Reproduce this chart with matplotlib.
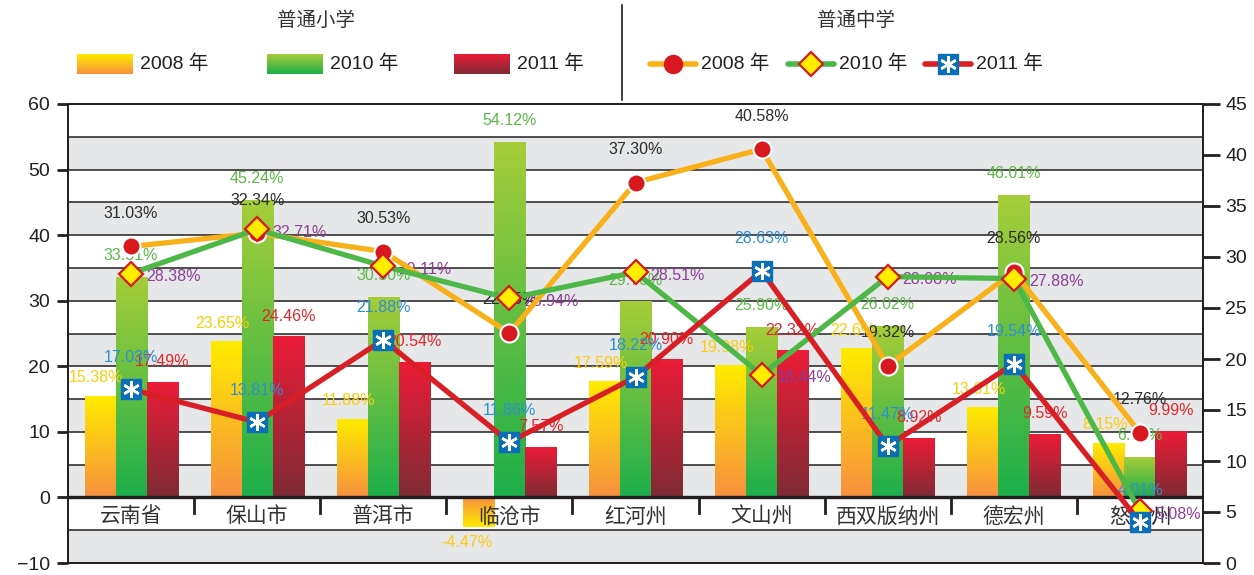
import numpy as np
import matplotlib
matplotlib.use('Agg')
from matplotlib import pyplot as plt
from matplotlib.colors import LinearSegmentedColormap

plt.rcParams['font.family'] = ['Liberation Sans', 'Noto Sans CJK SC', 'DejaVu Sans']

# 州市
regions = ['云南省', '保山市', '普洱市', '临沧市', '红河州', '文山州', '西双版纳州', '德宏州', '怒江州']

# 普通小学（柱状，左轴），按标注原样记录
primary_2008 = ['15.38', '23.65', '11.88', '-4.47', '17.59', '19.98', '22.6', '13.61', '8.15']
primary_2010 = ['33.51', '45.24', '30.50', '54.12', '29.76', '25.90', '26.02', '46.01', '6.02']
primary_2011 = ['17.49', '24.46', '20.54', '7.57', '20.90', '22.32', '8.92', '9.59', '9.99']

# 普通中学（折线，右轴）
middle_2008 = [31.03, 32.34, 30.53, 22.55, 37.30, 40.58, 19.32, 28.56, 12.76]
middle_2010 = [28.38, 32.71, 29.11, 25.94, 28.51, 18.44, 28.08, 27.88, 5.08]
middle_2011 = [17.03, 13.81, 21.88, 11.86, 18.22, 28.63, 11.47, 19.54, 4.01]

years = ['2008 年', '2010 年', '2011 年']
left_ticks = [-10, 0, 10, 20, 30, 40, 50, 60]
right_ticks = [0, 5, 10, 15, 20, 25, 30, 35, 40, 45]

ink = '#231F20'
W, H = 1254, 575

fig = plt.figure(figsize=(W / 100, H / 100), dpi=100)
ax = fig.add_axes([68 / W, 12 / H, 1135 / W, 459 / H])

# 灰白相间的背景条和横线
for lo in range(-10, 60, 10):
    ax.axhspan(lo, lo + 5, color='#E6E7E8', lw=0, zorder=0)
for g in range(-5, 60, 5):
    ax.axhline(g, color=ink, lw=1.1, zorder=0.5)
ax.axhline(0, color=ink, lw=2.4, zorder=2)

x = np.arange(len(regions))
bw = 0.246


def gradient_bars(bars, top_color, bottom_color):
    cmap = LinearSegmentedColormap.from_list('grad', [bottom_color, top_color])
    grad = np.linspace(0, 1, 256).reshape(-1, 1)
    for b in bars:
        x0, y0 = b.get_xy()
        w, h = b.get_width(), b.get_height()
        b.set_visible(False)
        ax.imshow(grad, cmap=cmap, origin='lower', aspect='auto',
                  extent=[x0, x0 + w, y0, y0 + h], zorder=1, interpolation='bilinear')


def as_num(vals):
    return [float(v) for v in vals]


b08 = ax.bar(x - bw, as_num(primary_2008), bw)
b10 = ax.bar(x, as_num(primary_2010), bw)
b11 = ax.bar(x + bw, as_num(primary_2011), bw)
gradient_bars(b08, '#FFEC00', '#F7903F')
gradient_bars(b10, '#A6CD39', '#1DAF4B')
gradient_bars(b11, '#EC1C38', '#7E2B34')


# 柱上数值
def bar_labels(xs, vals, color, dx, dy):
    for xi, s in zip(xs, vals):
        v = float(s)
        if v >= 0:
            off = (dx, dy)
        else:
            off = (-12, -16)
        ax.annotate(s + '%', (xi, v), xytext=off, textcoords='offset pixels',
                    ha='center', va='center', fontsize=11.5, color=color, zorder=3)


bar_labels(x - bw, primary_2008, '#FDCD0B', -4, 19)
bar_labels(x, primary_2010, '#5CB947', 0, 22)
bar_labels(x + bw, primary_2011, '#E1262D', 0, 21)

# 横轴分类名和分隔短线
for i, name in enumerate(regions):
    ax.text(i, -2.9, name, ha='center', va='center', fontsize=15,
            family=['Noto Sans CJK SC'], color='#333333', zorder=4)
for i in range(len(regions) - 1):
    ax.plot([i + 0.5, i + 0.5], [0, -2.3], color=ink, lw=2, zorder=2)

ax.set_xlim(-0.5, len(regions) - 0.5)
ax.set_ylim(-10, 60)
ax.set_xticks([])
ax.set_yticks(left_ticks)
ax.tick_params(axis='y', direction='out', length=8, width=2, labelsize=14,
               colors=ink, pad=5)
for s in ax.spines.values():
    s.set_color(ink)
    s.set_linewidth(1.3)

# 右轴折线
ax2 = ax.twinx()
ax2.set_ylim(0, 45)
ax2.set_yticks(right_ticks)
ax2.tick_params(axis='y', direction='out', length=12, width=2, labelsize=14,
                colors=ink, pad=4)
for s in ax2.spines.values():
    s.set_color(ink)
    s.set_linewidth(1.3)

ax2.plot(x, middle_2008, color='#F9B11B', lw=3.8, marker='o', ms=13,
         mfc='#D7191F', mec='white', mew=1.5, zorder=3)
ax2.plot(x, middle_2010, color='#4DB848', lw=3.8, marker='D', ms=12,
         mfc='#FFED00', mec='#D7191F', mew=1.6, zorder=4)
ax2.plot(x, middle_2011, color='#D91F26', lw=3.8, zorder=5)
ax2.plot(x, middle_2011, ls='none', marker='s', ms=15, mfc='#0A6FB7',
         mec='#0A6FB7', zorder=6)
ax2.plot(x, middle_2011, ls='none', marker=(6, 2, 0), ms=12, mec='white',
         mew=1.8, zorder=7)

for xi, v in zip(x, middle_2008):
    ax2.annotate(f'{v:.2f}%', (xi, v), xytext=(0, 33), textcoords='offset pixels',
                 ha='center', va='center', fontsize=11.5, color='#2B2B2B', zorder=2)
for xi, v in zip(x, middle_2010):
    ax2.annotate(f'{v:.2f}%', (xi, v), xytext=(15, -3), textcoords='offset pixels',
                 ha='left', va='center', fontsize=11.5, color='#8E3D97', zorder=2)
for xi, v in zip(x, middle_2011):
    ax2.annotate(f'{v:.2f}%', (xi, v), xytext=(0, 32), textcoords='offset pixels',
                 ha='center', va='center', fontsize=11.5, color='#2F8FD6', zorder=2)
ax2.set_xlim(-0.5, len(regions) - 0.5)

# 顶部图例
hdr = fig.add_axes([0, 0, 1, 1])
hdr.axis('off')
hdr.plot([622, 622], [5, 100], color=ink, lw=1.2)
hdr.text(316, 20, '普通小学', ha='center', va='center', fontsize=14,
         family=['Noto Sans CJK SC'], color='#333333')
hdr.text(856, 20, '普通中学', ha='center', va='center', fontsize=14,
         family=['Noto Sans CJK SC'], color='#333333')

grad = np.linspace(0, 1, 256).reshape(-1, 1)
patch_colors = [('#FFEC00', '#F7903F'), ('#A6CD39', '#1DAF4B'), ('#EC1C38', '#7E2B34')]
for px, (top, bot), label in zip([77, 267, 454], patch_colors, years):
    cmap = LinearSegmentedColormap.from_list('p', [bot, top])
    hdr.imshow(grad, cmap=cmap, origin='lower', aspect='auto',
               extent=[px, px + 56, 74, 54], interpolation='bilinear')
    hdr.text(px + 63, 64, label, ha='left', va='center', fontsize=14, color=ink)

line_styles = [
    dict(color='#F9B11B', marker='o', ms=13, mfc='#D7191F', mec='#D7191F'),
    dict(color='#4DB848', marker='D', ms=12, mfc='#FFED00', mec='#D7191F', mew=1.6),
    dict(color='#D91F26', marker='s', ms=15, mfc='#0A6FB7', mec='#0A6FB7'),
]
for lx, st, label in zip([650, 788, 925], line_styles, years):
    color = st.pop('color')
    hdr.plot([lx, lx + 46], [64, 64], color=color, lw=4, solid_capstyle='round')
    hdr.plot([lx + 23], [64], ls='none', **st)
    hdr.text(lx + 51, 64, label, ha='left', va='center', fontsize=14, color=ink)
hdr.plot([925 + 23], [64], ls='none', marker=(6, 2, 0), ms=12, mec='white', mew=1.8)

hdr.set_xlim(0, W)
hdr.set_ylim(H, 0)

fig.savefig('out.png', dpi=100)
